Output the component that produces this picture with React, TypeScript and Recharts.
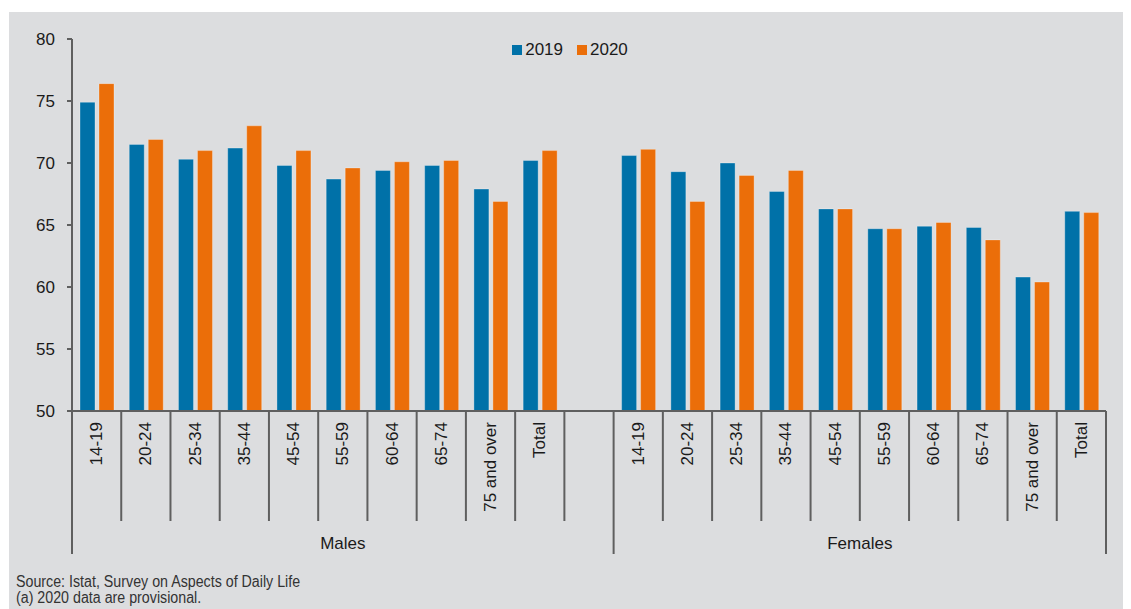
import React from 'react';
import { BarChart, Bar, XAxis, YAxis, Legend } from 'recharts';

// age classes, males then females, with an empty slot between the groups
const ageClasses = ['14-19', '20-24', '25-34', '35-44', '45-54', '55-59', '60-64', '65-74', '75 and over', 'Total'];
const males2019 = [74.9, 71.5, 70.3, 71.2, 69.8, 68.7, 69.4, 69.8, 67.9, 70.2];
const males2020 = [76.4, 71.9, 71.0, 73.0, 71.0, 69.6, 70.1, 70.2, 66.9, 71.0];
const females2019 = [70.6, 69.3, 70.0, 67.7, 66.3, 64.7, 64.9, 64.8, 60.8, 66.1];
const females2020 = [71.1, 66.9, 69.0, 69.4, 66.3, 64.7, 65.2, 63.8, 60.4, 66.0];
const groups = ['Males', 'Females'];
const yTicks = [50, 55, 60, 65, 70, 75, 80];

const data = [
  ...ageClasses.map((a, i) => ({ key: 'M ' + a, label: a, y2019: males2019[i], y2020: males2020[i] })),
  { key: 'gap', label: '', y2019: null, y2020: null },
  ...ageClasses.map((a, i) => ({ key: 'F ' + a, label: a, y2019: females2019[i], y2020: females2020[i] })),
];

const W = 1122;
const H = 597;
const M = { top: 27, right: 25, bottom: 0, left: 0 };
const Y_W = 63;
const BAND = (W - M.left - M.right - Y_W) / data.length;

const BLUE = '#0071a8';
const ORANGE = '#eb6e09';
const AXIS = '#5f5f5f';
const FONT = '"Liberation Sans", Arial, sans-serif';

const XTick = (props: any) => {
  const { x, y, index } = props;
  const item = data[index];
  const left = x - BAND / 2;
  const right = x + BAND / 2;
  const longLeft = index === 0 || index === ageClasses.length + 1;
  const last = index === data.length - 1;
  return (
    <g>
      <line x1={left} x2={left} y1={y} y2={y + (longLeft ? 143 : 110)} stroke={AXIS} strokeWidth={2} />
      {last && <line x1={right} x2={right} y1={y} y2={y + 143} stroke={AXIS} strokeWidth={2} />}
      {item.label && (
        <text
          x={x}
          y={y + 11}
          transform={`rotate(-90, ${x}, ${y + 11})`}
          textAnchor="end"
          dominantBaseline="central"
          fontSize={17}
          fontFamily={FONT}
          fill="#1a1a1a"
        >
          {item.label}
        </text>
      )}
      {index === 0 && (
        <text x={left + BAND * 5.5} y={y + 138} textAnchor="middle" fontSize={17} fontFamily={FONT} fill="#1a1a1a">
          {groups[0]}
        </text>
      )}
      {index === ageClasses.length + 1 && (
        <text x={left + BAND * 5} y={y + 138} textAnchor="middle" fontSize={17} fontFamily={FONT} fill="#1a1a1a">
          {groups[1]}
        </text>
      )}
    </g>
  );
};

const LegendContent = () => (
  <div style={{ display: 'flex', justifyContent: 'center', alignItems: 'center', height: 20, fontFamily: FONT, fontSize: 17, color: '#1a1a1a' }}>
    {[['2019', BLUE], ['2020', ORANGE]].map(([name, color], i) => (
      <div key={name} style={{ display: 'flex', alignItems: 'center', marginLeft: i ? 14 : 0 }}>
        <span style={{ width: 10, height: 10, background: color, marginRight: 3 }} />
        <span>{name}</span>
      </div>
    ))}
  </div>
);

export default function App() {
  return (
    <div style={{ position: 'relative', width: 1123, height: 601, background: '#fff' }}>
      <div style={{ position: 'absolute', left: 1, top: 4, width: W, height: H, background: '#dcdddf' }}>
        <BarChart width={W} height={H} data={data} margin={M} barSize={15} barGap={4}>
          <YAxis
            width={Y_W}
            domain={[50, 80]}
            ticks={yTicks}
            interval={0}
            axisLine={{ stroke: AXIS, strokeWidth: 2 }}
            tickLine={{ stroke: AXIS, strokeWidth: 2 }}
            tickSize={5}
            tickMargin={12}
            tick={{ fontSize: 17, fontFamily: FONT, fill: '#1a1a1a' }}
          />
          <XAxis
            dataKey="key"
            height={H - M.top - 372}
            interval={0}
            axisLine={{ stroke: AXIS, strokeWidth: 2 }}
            tickLine={false}
            tickSize={0}
            tickMargin={0}
            tick={<XTick />}
          />
          <Legend
            layout="horizontal"
            verticalAlign="middle"
            align="center"
            wrapperStyle={{ top: 28, left: 0, width: W }}
            content={<LegendContent />}
          />
          <Bar dataKey="y2019" name="2019" fill={BLUE} stroke="rgba(255,255,255,0.3)" strokeWidth={1} isAnimationActive={false} />
          <Bar dataKey="y2020" name="2020" fill={ORANGE} stroke="rgba(255,255,255,0.3)" strokeWidth={1} isAnimationActive={false} />
        </BarChart>
        <div
          style={{
            position: 'absolute',
            left: 7,
            top: 562,
            fontFamily: '"Liberation Sans Narrow", "Liberation Sans", Arial, sans-serif',
            fontSize: 16,
            lineHeight: '16px',
            color: '#333',
            transform: 'scaleX(0.89)',
            transformOrigin: 'left top',
            whiteSpace: 'nowrap',
          }}
        >
          <div>Source: Istat, Survey on Aspects of Daily Life</div>
          <div>(a) 2020 data are provisional.</div>
        </div>
      </div>
    </div>
  );
}
